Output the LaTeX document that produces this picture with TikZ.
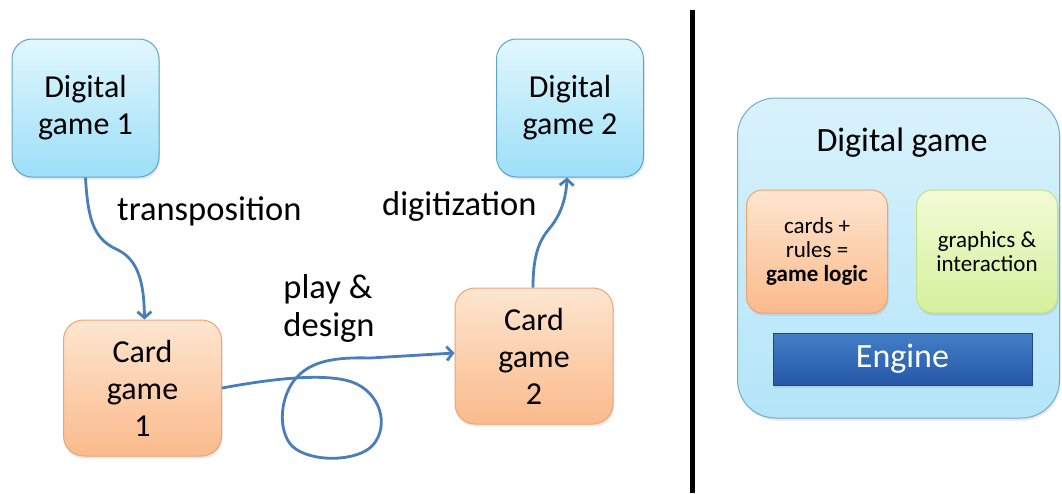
\documentclass[tikz,border=0pt]{standalone}
\usepackage{fontspec}
\setmainfont{Carlito}
\usetikzlibrary{%
    arrows.meta,
    positioning,
    shadows
}
\definecolor{flowblue}{RGB}{74,126,187}
\definecolor{digitop}{RGB}{226,247,253}
\definecolor{digibot}{RGB}{156,223,248}
\definecolor{digiedge}{RGB}{96,164,196}
\definecolor{cardtop}{RGB}{254,230,208}
\definecolor{cardbot}{RGB}{250,186,140}
\definecolor{cardedge}{RGB}{236,164,112}
\definecolor{gfxtop}{RGB}{242,252,214}
\definecolor{gfxbot}{RGB}{212,240,156}
\definecolor{gfxedge}{RGB}{196,222,140}
\definecolor{apptop}{RGB}{216,242,252}
\definecolor{appbot}{RGB}{180,229,249}
\definecolor{appedge}{RGB}{112,172,204}
\definecolor{enginetop}{RGB}{66,126,198}
\definecolor{enginebot}{RGB}{38,88,168}
\definecolor{engineedge}{RGB}{30,70,140}
\newcommand{\bigtext}{\fontsize{32}{37}\selectfont}
\newcommand{\steptext}{\fontsize{34.5}{38}\selectfont}
\newcommand{\smalltext}{\fontsize{23}{24}\selectfont}
\tikzset{headarrow/.style = {-{Straight Barb[length=6pt,width=14pt]}}}
\tikzset{flow/.style = {line width=2.8pt, draw=flowblue, headarrow}}
\tikzset{softshadow/.style = {drop shadow={opacity=.18, shadow xshift=1pt, shadow yshift=-2.5pt}}}
\tikzset{gamebox/.style = {rounded corners=20pt, line width=1pt, align=center, font=\bigtext, softshadow}}
\tikzset{digibox/.style = {gamebox, draw=digiedge, top color=digitop, bottom color=digibot, minimum width=147pt, minimum height=138pt}}
\tikzset{cardbox/.style = {gamebox, draw=cardedge, top color=cardtop, bottom color=cardbot, minimum width=158pt, minimum height=136pt}}
\tikzset{flowtext/.style = {font=\steptext, inner sep=0pt}}
\tikzset{partbox/.style = {rounded corners=16pt, line width=1pt, align=center, font=\smalltext, minimum width=141pt, minimum height=123pt, softshadow}}

\begin{document}
\begin{tikzpicture}[x=1pt, y=-1pt]
    \useasboundingbox (0,0) rectangle (1062,493);

    % game versions and the steps between them
    \node (dg1) [digibox] at (85.5,108) {Digital\\game 1};
    \node (dg2) [digibox] at (570,108) {Digital\\game 2};
    \node (cg1) [cardbox] at (142.5,388) {Card\\game\\1};
    \node (cg2) [cardbox] at (534,356) {Card\\game\\2};

    \node (transp) [flowtext, anchor=base west] at (117,220) {transposition};
    \node (digit) [flowtext, anchor=base west] at (382,215) {digitization};
    \node (playdesign) [flowtext, align=left] at (329,308) {play \&\\design};

    \draw[flow] (dg1.south) .. controls (88,225) and (96,240) .. (118,250)
        .. controls (138,260) and (144,282) .. ([xshift=2pt]cg1.north);
    \draw[flow] ([xshift=-1pt]cg2.north) .. controls (533,258) and (538,242) .. (549,229)
        .. controls (560,216) and (566,200) .. ([xshift=-3pt]dg2.south);
    \draw[flow] (cg1.east) .. controls (255,382) and (320,371) .. (352,382)
        .. controls (380,392) and (390,425) .. (373,445)
        .. controls (358,462) and (310,463) .. (292,446)
        .. controls (277,430) and (280,395) .. (297,377)
        .. controls (312,361) and (335,357) .. (370,358)
        -- ([yshift=3pt]cg2.west);

    % separator
    \coordinate (sepTop) at (692,10);
    \coordinate (sepBottom) at (692,493);
    \draw[line width=5pt] (sepTop) -- (sepBottom);

    % parts of a digital game
    \node (app) [rounded corners=38pt, line width=1pt, draw=appedge, top color=apptop, bottom color=appbot,
        minimum width=322pt, minimum height=320pt, softshadow] at (898.5,258) {};
    \node (apptitle) [font=\fontsize{34}{38}\selectfont] at (902,143) {Digital game};
    \node (logic) [partbox, draw=cardedge, top color=cardtop, bottom color=cardbot] at (817,251.5)
        {cards +\\rules =\\\textbf{game logic}};
    \node (gfx) [partbox, right=28pt of logic, draw=gfxedge, top color=gfxtop, bottom color=gfxbot]
        {graphics \&\\interaction};
    \node (engine) [draw=engineedge, line width=.8pt, top color=enginetop, bottom color=enginebot,
        minimum width=259pt, minimum height=52pt, font=\fontsize{34}{38}\selectfont, text=white,
        softshadow] at (902.5,359) {Engine};
\end{tikzpicture}
\end{document}
